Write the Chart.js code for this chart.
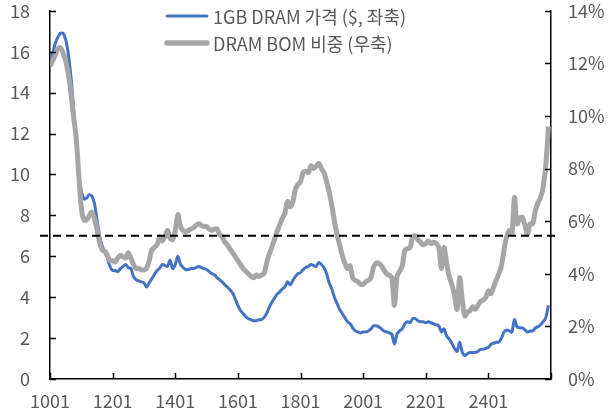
<!DOCTYPE html>
<html>
<head>
<meta charset="utf-8">
<script src="https://cdn.jsdelivr.net/npm/chart.js@4.4.1/dist/chart.umd.min.js"></script>
<style>
  body { margin: 0; background: #fff; }
  #wrap { width: 610px; height: 414px; position: relative; }
</style>
</head>
<body>
<div id="wrap"><canvas id="grafica"></canvas></div>
<script>
// meses YYMM, 1001 ~ 2512
const meses = [];
for (let a = 10; a <= 25; a++) {
  for (let m = 1; m <= 12; m++) meses.push(String(a) + String(m).padStart(2, '0'));
}

// 1GB DRAM 가격 ($, 좌축)
const precioDram = [
  15.5, 15.9, 16.4, 16.7, 16.9, 16.9, 16.6, 15.9, 14.8, 13.3, 11.6, 10.0,
  9.2, 8.8, 8.85, 9.0, 8.95, 8.6, 7.8, 7.0, 6.5, 6.2, 5.9, 5.5,
  5.3, 5.3, 5.25, 5.4, 5.5, 5.6, 5.45, 5.4, 5.0, 4.85, 4.8, 4.75,
  4.7, 4.5, 4.7, 4.9, 5.1, 5.3, 5.4, 5.6, 5.55, 5.5, 5.8, 5.4,
  5.6, 6.0, 5.6, 5.45, 5.35, 5.35, 5.4, 5.4, 5.45, 5.5, 5.45, 5.4,
  5.35, 5.25, 5.15, 5.1, 4.95, 4.85, 4.75, 4.6, 4.5, 4.35, 4.2, 3.9,
  3.6, 3.35, 3.2, 3.05, 2.95, 2.9, 2.85, 2.85, 2.9, 2.9, 3.0, 3.2,
  3.5, 3.75, 3.95, 4.15, 4.25, 4.4, 4.5, 4.75, 4.6, 4.8, 5.0, 5.15,
  5.2, 5.35, 5.45, 5.5, 5.6, 5.55, 5.5, 5.7, 5.6, 5.45, 5.15, 4.7,
  4.4, 4.0, 3.7, 3.4, 3.2, 3.0, 2.8, 2.7, 2.5, 2.35, 2.3, 2.25,
  2.3, 2.3, 2.35, 2.45, 2.6, 2.6, 2.55, 2.45, 2.35, 2.3, 2.25, 2.2,
  1.7, 2.2, 2.35, 2.45, 2.7, 2.8, 2.75, 2.95, 2.95, 2.85, 2.8, 2.8,
  2.75, 2.8, 2.75, 2.7, 2.65, 2.6, 2.3, 2.45, 2.1, 1.95, 1.75, 1.5,
  1.35, 1.8, 1.3, 1.15, 1.25, 1.3, 1.3, 1.3, 1.35, 1.45, 1.45, 1.5,
  1.55, 1.7, 1.75, 1.8, 1.8, 2.0, 2.3, 2.4, 2.35, 2.3, 2.9, 2.55,
  2.5, 2.5, 2.4, 2.3, 2.35, 2.35, 2.5, 2.55, 2.65, 2.8, 3.0, 3.6
];

// DRAM BOM 비중 (%, 우축)
const pesoBom = [
  11.9, 12.1, 12.3, 12.55, 12.6, 12.4, 12.1, 11.6, 10.9, 10.0, 9.2, 7.8,
  6.5, 6.05, 6.05, 6.2, 6.35, 6.1, 5.7, 5.2, 4.9, 4.85, 4.7, 4.5,
  4.5, 4.45, 4.6, 4.7, 4.65, 4.6, 4.8, 4.6, 4.35, 4.2, 4.2, 4.15,
  4.15, 4.2, 4.5, 4.9, 5.0, 5.1, 5.4, 5.25, 5.4, 5.65, 5.35, 5.3,
  5.65, 6.25, 5.8, 5.65, 5.6, 5.65, 5.7, 5.75, 5.85, 5.9, 5.85, 5.8,
  5.8, 5.7, 5.65, 5.7, 5.7, 5.5, 5.4, 5.2, 5.1, 4.95, 4.8, 4.65,
  4.5, 4.35, 4.2, 4.1, 4.0, 3.9, 3.85, 3.95, 3.9, 3.95, 4.0, 4.4,
  4.75, 5.0, 5.3, 5.6, 5.85, 6.1, 6.3, 6.75, 6.55, 6.7, 7.2, 7.4,
  7.5, 7.85, 7.9, 7.85, 8.1, 8.0, 8.1, 8.2, 8.0, 7.85, 7.5, 7.1,
  6.6, 6.0, 5.5, 5.1, 4.7, 4.4, 4.2, 4.3, 3.85, 3.75, 3.7, 3.6,
  3.6, 3.7, 3.75, 3.85, 4.25, 4.4, 4.4, 4.3, 4.15, 4.0, 3.95, 3.85,
  2.8, 3.9, 4.1, 4.3, 4.9, 4.95, 5.0, 5.4, 5.45, 5.3, 5.2, 5.1,
  5.15, 5.25, 5.15, 5.2, 5.15, 5.0, 4.2, 5.0, 4.4, 3.9, 3.6, 3.2,
  2.65, 3.85, 3.0, 2.4, 2.55, 2.6, 2.75, 2.65, 2.8, 2.95, 3.0, 3.1,
  3.35, 3.25, 3.5, 3.75, 4.0, 4.3, 4.9, 5.4, 5.65, 5.5, 6.9, 5.9,
  6.1, 6.15, 5.85, 5.5, 5.9, 5.9, 6.4, 6.7, 6.9, 7.3, 8.1, 9.6
];

const etiquetas = ['1GB DRAM 가격 ($, 좌축)', 'DRAM BOM 비중 (우축)'];
const lineaRef = 7; // 점선 (좌축 기준)

const FUENTE = "'Noto Sans CJK KR', 'Noto Sans', sans-serif";
const GRIS_TXT = '#595959';
const AZUL = '#4472C4';
const GRIS = '#A8A6A5';

function puntos(arr) {
  return arr.map((v, i) => ({ x: i, y: v }));
}

// grid invisible, solo para separar las etiquetas del eje
function rejilla(largo) {
  return { display: true, drawOnChartArea: false, drawTicks: true, tickLength: largo, tickColor: 'rgba(0,0,0,0)' };
}

const marcas = {
  id: 'marcas',
  afterDatasetsDraw(chart) {
    const ctx = chart.ctx;
    const a = chart.chartArea;
    const sx = chart.scales.x, yl = chart.scales.y, yr = chart.scales.y2;
    ctx.save();
    // 점선
    const py0 = yl.getPixelForValue(lineaRef);
    ctx.strokeStyle = '#000';
    ctx.lineWidth = 2;
    ctx.setLineDash([8, 5]);
    ctx.beginPath();
    ctx.moveTo(a.left - 10, py0);
    ctx.lineTo(a.right + 7, py0);
    ctx.stroke();
    ctx.setLineDash([]);
    // tick marks hacia dentro
    ctx.lineWidth = 1.5;
    ctx.beginPath();
    sx.ticks.forEach(t => {
      const px = Math.round(sx.getPixelForValue(t.value)) + 0.5;
      ctx.moveTo(px, a.bottom);
      ctx.lineTo(px, a.bottom - 6);
    });
    yl.ticks.forEach(t => {
      const py = Math.round(yl.getPixelForValue(t.value)) + 0.5;
      ctx.moveTo(a.left, py);
      ctx.lineTo(a.left + 6, py);
    });
    yr.ticks.forEach(t => {
      const py = Math.round(yr.getPixelForValue(t.value)) + 0.5;
      ctx.moveTo(a.right, py);
      ctx.lineTo(a.right - 6, py);
    });
    ctx.stroke();
    // leyenda
    ctx.font = '18px ' + FUENTE;
    ctx.textBaseline = 'middle';
    ctx.fillStyle = GRIS_TXT;
    const filas = [
      { y: 16, color: AZUL, w: 3 },
      { y: 43, color: GRIS, w: 5.5 }
    ];
    filas.forEach((f, i) => {
      ctx.strokeStyle = f.color;
      ctx.lineWidth = f.w;
      ctx.lineCap = 'round';
      ctx.beginPath();
      ctx.moveTo(167, f.y);
      ctx.lineTo(207, f.y);
      ctx.stroke();
      ctx.fillText(etiquetas[i], 213, f.y + 1);
    });
    ctx.restore();
  }
};

const config = {
  type: 'line',
  data: {
    datasets: [
      {
        label: etiquetas[0],
        data: puntos(precioDram),
        yAxisID: 'y',
        borderColor: AZUL,
        borderWidth: 3,
        pointRadius: 0,
        tension: 0.3,
        order: 1
      },
      {
        label: etiquetas[1],
        data: puntos(pesoBom),
        yAxisID: 'y2',
        borderColor: GRIS,
        borderWidth: 5,
        pointRadius: 0,
        tension: 0.3,
        order: 0
      }
    ]
  },
  options: {
    responsive: true,
    maintainAspectRatio: false,
    animation: false,
    layout: { padding: { top: 7, left: 0, right: 0, bottom: 0 } },
    plugins: { legend: { display: false }, tooltip: { enabled: false } },
    scales: {
      x: {
        type: 'linear',
        min: 0,
        max: 192,
        grid: rejilla(11),
        border: { color: '#000', width: 1.5 },
        ticks: {
          stepSize: 24,
          autoSkip: false,
          maxRotation: 0,
          padding: 0,
          color: GRIS_TXT,
          font: { family: FUENTE, size: 18 },
          callback: v => meses[v] || ''
        },
        afterFit: s => { s.height = 35; }
      },
      y: {
        position: 'left',
        min: 0,
        max: 18,
        grid: rejilla(20),
        border: { color: '#000', width: 1.5 },
        ticks: {
          stepSize: 2,
          padding: 0,
          color: GRIS_TXT,
          font: { family: FUENTE, size: 18 }
        },
        afterFit: s => { s.width = 50; }
      },
      y2: {
        position: 'right',
        min: 0,
        max: 14,
        grid: rejilla(17),
        border: { color: '#000', width: 1.5 },
        ticks: {
          stepSize: 2,
          padding: 0,
          color: GRIS_TXT,
          font: { family: FUENTE, size: 18 },
          callback: v => v + '%'
        },
        afterFit: s => { s.width = 59; }
      }
    }
  },
  plugins: [marcas]
};

const ctx = document.getElementById('grafica');
const migrafica = new Chart(ctx, config);
</script>
</body>
</html>
